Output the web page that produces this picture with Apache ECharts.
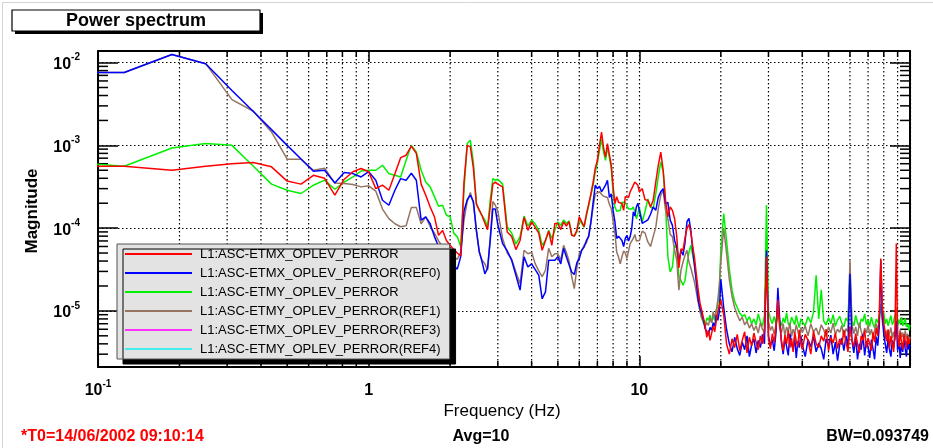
<!DOCTYPE html>
<html>
<head>
<meta charset="utf-8">
<title>Power spectrum</title>
<script src="https://cdn.jsdelivr.net/npm/echarts@6/dist/echarts.min.js"></script>
<style>
html, body { margin: 0; padding: 0; background: #fff; }
#chart { width: 933px; height: 448px; }
</style>
</head>
<body>
<div id="chart"></div>
<script>
// frequency bins (Hz), shared by all traces
var freq = [
  0.0625, 0.125, 0.1875, 0.25, 0.3125, 0.375, 0.4375, 0.5, 0.5625, 0.625, 0.6875, 0.75, 0.8125, 0.875, 0.9375, 1,
  1.0625, 1.125, 1.1875, 1.25, 1.3125, 1.375, 1.4375, 1.5, 1.5625, 1.625, 1.6875, 1.75, 1.8125, 1.875, 1.9375, 2,
  2.0625, 2.125, 2.1875, 2.25, 2.3125, 2.375, 2.4375, 2.5, 2.5625, 2.625, 2.6875, 2.75, 2.8125, 2.875, 2.9375, 3,
  3.125, 3.25, 3.375, 3.5, 3.625, 3.75, 3.875, 4, 4.125, 4.25, 4.375, 4.5, 4.625, 4.75, 4.875, 5, 5.125, 5.25, 5.375, 5.5,
  5.625, 5.75, 5.875, 6, 6.125, 6.25, 6.375, 6.5, 6.625, 6.75, 6.875, 7, 7.125, 7.25, 7.375, 7.5, 7.625, 7.75, 7.875, 8,
  8.125, 8.25, 8.375, 8.5, 8.625, 8.75, 8.875, 9, 9.125, 9.25, 9.375, 9.5, 9.625, 9.75, 9.875, 10,
  10.25, 10.5, 10.75, 11, 11.25, 11.5, 11.75, 12, 12.25, 12.5, 12.75, 13, 13.25, 13.5, 13.75, 14,
  14.25, 14.5, 14.75, 15, 15.25, 15.5, 15.75, 16, 16.25, 16.5, 16.75, 17, 17.25, 17.5, 17.75, 18, 18.25, 18.5, 18.75, 19, 19.25, 19.5, 19.75, 20,
  20.5, 21, 21.5, 22, 22.5, 23, 23.5, 24, 24.5, 25,
  25.5, 26, 26.5, 27, 27.5, 28, 28.5, 29, 29.5, 30,
  30.5, 31, 31.5, 32, 32.5, 33, 33.5, 34, 34.5, 35,
  35.5, 36, 36.5, 37, 37.5, 38, 38.5, 39, 39.5, 40,
  41, 42, 43, 44, 45, 46, 47, 48, 49, 50,
  51, 52, 53, 54, 55, 56, 57, 58, 59, 60,
  61, 62, 63, 64, 65, 66, 67, 68, 69, 70,
  71, 72, 73, 74, 75, 76, 77, 78, 79, 80,
  81, 82, 83, 84, 85, 86, 87, 88, 89, 90,
  91, 92, 93, 94, 95, 96, 97, 98, 99, 100
];

// L1:ASC-ETMX_OPLEV_PERROR (red)
var etmx = [
  5.6e-4, 5.6e-4, 5.0e-4, 5.6e-4, 6.0e-4, 6.2e-4, 5.5e-4, 3.7e-4, 3.4e-4, 4.35e-4, 4.0e-4, 2.5e-4, 3.9e-4, 4.8e-4, 5.25e-4, 4.8e-4,
  3.0e-4, 3.3e-4, 2.87e-4, 4.55e-4, 7.1e-4, 7.6e-4, 9.8e-4, 8.0e-4, 3.4e-4, 2.5e-4, 1.8e-4, 1.37e-4, 8.2e-5, 9.4e-5, 7.1e-5, 6.2e-5,
  5.5e-5, 5.0e-5, 4.6e-5, 3.6e-4, 1.0e-3, 9.6e-4, 5.3e-4, 1.95e-4, 1.65e-4, 1.4e-4, 1.15e-4, 9.6e-5, 1.8e-4, 3.4e-4, 3.6e-4, 3.4e-4,
  3.15e-4, 9.0e-5, 7.9e-5, 5.5e-5, 7.1e-5, 1.35e-4, 9.4e-5, 1.19e-4, 1.02e-4, 8.7e-5, 5.4e-5, 7.1e-5, 9.2e-5, 6.2e-5, 1.14e-4, 1.14e-4, 9.6e-5, 1.19e-4, 1.06e-4, 1.2e-4,
  8.2e-5, 8.0e-5, 9.4e-5, 1.37e-4, 1.19e-4, 1.04e-4, 1.47e-4, 1.94e-4, 2.6e-4, 3.6e-4, 5.3e-4, 6.6e-4, 1.0e-3, 1.45e-3, 9.4e-4, 7.2e-4, 1.05e-3, 1.05e-3, 5.75e-4, 3.15e-4,
  1.98e-4, 2.4e-4, 2.05e-4, 2.05e-4, 1.98e-4, 1.64e-4, 2.4e-4, 2.5e-4, 2.35e-4, 2.75e-4, 3.0e-4, 3.3e-4, 3.6e-4, 3.79e-4, 3.3e-4, 2.75e-4,
  3.0e-4, 2.2e-4, 2.17e-4, 1.8e-4, 2.17e-4, 3.6e-4, 5.75e-4, 8.3e-4, 5.0e-4, 2.17e-4, 1.37e-4, 1.8e-4, 1.64e-4, 1.3e-4, 7.9e-5, 3.3e-5,
  5.6e-5, 5.4e-5, 7.6e-5, 1.0e-4, 1.1e-4, 8.9e-5, 6.0e-5, 4.3e-5, 2.7e-5, 1.78e-5, 1.25e-5, 1.02e-5, 8.2e-6, 6.7e-6, 4.8e-6, 5.85e-6, 4.4e-6, 5.4e-6, 6.5e-6, 5.6e-6, 7.7e-6, 9.8e-6, 1.17e-5, 1.35e-5,
  9.0e-6, 4.0e-6, 3.0e-6, 4.6e-6, 3.6e-6, 5.2e-6, 3.3e-6, 4.4e-6, 5.6e-6, 3.1e-6,
  4.8e-6, 3.8e-6, 5.4e-6, 4.2e-6, 3.4e-6, 5.0e-6, 4.0e-6, 6.0e-6, 4.5e-5, 4.6e-6,
  3.5e-6, 5.3e-6, 4.1e-6, 6.5e-6, 1.35e-5, 7.0e-6, 4.4e-6, 3.3e-6, 5.1e-6, 4.0e-6,
  5.8e-6, 3.6e-6, 4.7e-6, 3.2e-6, 5.5e-6, 4.3e-6, 3.7e-6, 5.9e-6, 4.1e-6, 3.4e-6,
  5.2e-6, 4.4e-6, 3.0e-6, 5.7e-6, 4.0e-6, 3.6e-6, 5.0e-6, 4.3e-6, 6.0e-6, 3.3e-6,
  4.8e-6, 4.1e-6, 5.4e-6, 3.5e-6, 4.6e-6, 3.9e-6, 5.9e-6, 4.2e-6, 3.2e-6, 6.5e-6,
  4.5e-6, 3.7e-6, 5.3e-6, 4.0e-6, 3.1e-6, 5.0e-6, 4.4e-6, 5.8e-6, 3.6e-6, 4.7e-6,
  4.0e-6, 3.3e-6, 5.5e-6, 4.2e-6, 6.2e-6, 5.0e-6, 9.0e-6, 4.3e-5, 1.2e-5, 7.0e-6,
  5.5e-6, 4.3e-6, 6.0e-6, 3.5e-6, 5.0e-6, 4.1e-6, 3.2e-6, 5.6e-6, 6.5e-5, 4.8e-6,
  3.7e-6, 5.5e-6, 4.2e-6, 3.4e-6, 5.2e-6, 4.4e-6, 3.6e-6, 5.0e-6, 4.0e-6, 4.6e-6
];

// L1:ASC-ETMX_OPLEV_PERROR(REF0) (blue)
var etmxRef0 = [
  7.6e-3, 7.6e-3, 1.25e-2, 9.7e-3, 4.6e-3, 2.56e-3, 1.55e-3, 1.0e-3, 6.85e-4, 4.87e-4, 5.0e-4, 3.5e-4, 4.7e-4, 4.56e-4, 4.15e-4, 4.8e-4,
  3.79e-4, 2.17e-4, 1.89e-4, 2.87e-4, 3.96e-4, 3.79e-4, 4.6e-4, 3.79e-4, 1.25e-4, 1.37e-4, 1.13e-4, 7.9e-5, 6.0e-5, 5.0e-5, 4.5e-5, 4.0e-5,
  3.5e-5, 3.2e-5, 4.5e-5, 1.6e-4, 2.2e-4, 2.5e-4, 2.1e-4, 9.4e-5, 5.2e-5, 3.9e-5, 2.8e-5, 3.3e-5, 7.1e-5, 1.7e-4, 1.7e-4, 1.1e-4,
  6.5e-5, 5.3e-5, 4.1e-5, 2.7e-5, 1.78e-5, 4.5e-5, 3.4e-5, 3.7e-5, 3.15e-5, 2.7e-5, 1.4e-5, 1.7e-5, 4.1e-5, 4.1e-5, 4.1e-5, 4.5e-5, 3.7e-5, 5.7e-5, 4.5e-5, 3.6e-5,
  2.95e-5, 2.75e-5, 3.8e-5, 4.3e-5, 5.4e-5, 5.9e-5, 7.1e-5, 7.9e-5, 1.19e-4, 2.05e-4, 3.3e-4, 3.0e-4, 3.2e-4, 2.75e-4, 3.0e-4, 3.3e-4, 3.79e-4, 2.35e-4, 2.6e-4, 1.64e-4,
  1.19e-4, 7.5e-5, 8.0e-5, 7.9e-5, 7.1e-5, 6.0e-5, 7.5e-5, 8.2e-5, 7.0e-5, 7.9e-5, 9.9e-5, 1.57e-4, 1.4e-4, 1.8e-4, 2.0e-4, 1.64e-4,
  1.14e-4, 1.2e-4, 1.26e-4, 1.47e-4, 1.8e-4, 1.64e-4, 2.35e-4, 2.75e-4, 3.0e-4, 1.98e-4, 2.05e-4, 1.25e-4, 1.08e-4, 7.1e-5, 5.9e-5, 3.9e-5,
  5.4e-5, 4.7e-5, 6.7e-5, 1.2e-4, 1.31e-4, 9.4e-5, 5.4e-5, 3.45e-5, 2.2e-5, 1.35e-5, 1.08e-5, 9.4e-6, 7.7e-6, 6.1e-6, 5.85e-6, 5.1e-6, 6.3e-6, 5.85e-6, 7.2e-6, 6.5e-6, 8.9e-6, 7.7e-6, 9.8e-6, 2.4e-5,
  1.1e-5, 6.0e-6, 4.0e-6, 3.2e-6, 4.8e-6, 3.5e-6, 2.9e-6, 4.2e-6, 3.4e-6, 5.0e-6,
  2.8e-6, 3.9e-6, 4.6e-6, 3.1e-6, 4.4e-6, 3.6e-6, 5.2e-6, 4.0e-6, 5.4e-5, 5.0e-6,
  3.8e-6, 4.5e-6, 3.3e-6, 5.6e-6, 1.9e-5, 8.0e-6, 4.1e-6, 3.0e-6, 4.7e-6, 3.7e-6,
  2.9e-6, 5.3e-6, 4.0e-6, 3.4e-6, 4.8e-6, 2.7e-6, 4.3e-6, 3.6e-6, 5.0e-6, 3.9e-6,
  2.8e-6, 4.5e-6, 3.7e-6, 4.9e-6, 3.2e-6, 4.1e-6, 3.5e-6, 2.6e-6, 4.6e-6, 3.8e-6,
  5.1e-6, 3.0e-6, 4.2e-6, 2.5e-6, 3.9e-6, 4.7e-6, 3.3e-6, 5.0e-6, 3.6e-6, 2.8e-5,
  4.4e-6, 3.1e-6, 4.8e-6, 2.6e-6, 4.0e-6, 3.4e-6, 5.2e-6, 2.9e-6, 4.3e-6, 3.7e-6,
  2.7e-6, 4.5e-6, 3.5e-6, 2.6e-6, 4.9e-6, 3.8e-6, 6.5e-6, 4.1e-5, 9.0e-6, 5.2e-6,
  4.0e-6, 3.1e-6, 4.6e-6, 3.4e-6, 2.8e-6, 4.4e-6, 3.6e-6, 5.0e-6, 7.5e-6, 3.3e-6,
  4.5e-6, 2.7e-6, 4.0e-6, 3.2e-6, 4.7e-6, 3.5e-6, 2.8e-6, 4.2e-6, 3.4e-6, 3.9e-6
];

// L1:ASC-ETMY_OPLEV_PERROR (green)
var etmy = [
  6.6e-4, 5.6e-4, 9.3e-4, 1.05e-3, 1.0e-3, 5.6e-4, 3.4e-4, 2.87e-4, 2.62e-4, 3.3e-4, 3.8e-4, 2.95e-4, 3.6e-4, 4.15e-4, 4.9e-4, 5.0e-4,
  5.0e-4, 5.75e-4, 4.55e-4, 4.35e-4, 4.15e-4, 6.6e-4, 1.0e-3, 8.3e-4, 5.0e-4, 3.6e-4, 3.15e-4, 2.4e-4, 1.84e-4, 1.89e-4, 1.43e-4, 1.37e-4,
  8.7e-5, 7.9e-5, 6.0e-5, 2.9e-4, 1.05e-3, 1.15e-3, 6.2e-4, 2.0e-4, 1.64e-4, 1.43e-4, 1.25e-4, 1.04e-4, 2.17e-4, 3.96e-4, 3.79e-4, 3.9e-4,
  3.4e-4, 1.04e-4, 8.7e-5, 6.4e-5, 7.9e-5, 1.4e-4, 1.06e-4, 1.25e-4, 1.12e-4, 9.4e-5, 6.2e-5, 7.1e-5, 9.4e-5, 7.5e-5, 9.4e-5, 1.19e-4, 1.08e-4, 1.25e-4, 1.14e-4, 1.22e-4,
  8.4e-5, 8.0e-5, 9.0e-5, 1.25e-4, 1.14e-4, 1.02e-4, 1.43e-4, 1.89e-4, 2.5e-4, 3.3e-4, 4.8e-4, 6.06e-4, 8.7e-4, 1.2e-3, 8.3e-4, 6.6e-4, 9.6e-4, 9.1e-4, 5.3e-4, 2.66e-4,
  1.8e-4, 1.6e-4, 1.52e-4, 1.64e-4, 2.05e-4, 2.1e-4, 2.04e-4, 1.94e-4, 1.7e-4, 1.64e-4, 1.7e-4, 1.8e-4, 1.57e-4, 1.3e-4, 1.5e-4, 1.77e-4,
  1.19e-4, 1.6e-4, 2.25e-4, 1.8e-4, 1.72e-4, 2.6e-4, 4.15e-4, 6.3e-4, 4.8e-4, 1.89e-4, 4.5e-5, 2.95e-5, 3.4e-5, 6.2e-5, 5.7e-5, 2.6e-5,
  2.35e-5, 2.04e-5, 2.35e-5, 3.56e-5, 5.1e-5, 6.2e-5, 4.7e-5, 3.56e-5, 2.35e-5, 1.55e-5, 1.02e-5, 8.2e-6, 7.2e-6, 6.7e-6, 8.2e-6, 7.7e-6, 8.9e-6, 7.2e-6, 8.6e-6, 7.7e-6, 1.02e-5, 1.17e-5, 1.78e-5, 5.4e-5,
  1.5e-4, 7.1e-5, 3.2e-5, 1.78e-5, 1.3e-5, 1.1e-5, 9.4e-6, 8.6e-6, 9.0e-6, 7.6e-6,
  8.5e-6, 7.0e-6, 8.0e-6, 6.8e-6, 9.2e-6, 7.4e-6, 6.6e-6, 8.8e-6, 1.9e-4, 1.0e-5,
  8.0e-6, 7.0e-6, 8.6e-6, 6.8e-6, 9.0e-6, 7.5e-6, 6.6e-6, 8.2e-6, 7.2e-6, 9.5e-6,
  7.0e-6, 6.5e-6, 8.4e-6, 7.6e-6, 6.8e-6, 8.8e-6, 7.3e-6, 6.3e-6, 8.0e-6, 7.4e-6,
  6.6e-6, 8.5e-6, 7.2e-6, 9.6e-6, 2.7e-5, 8.0e-6, 1.8e-5, 7.5e-6, 6.8e-6, 8.3e-6,
  7.0e-6, 9.0e-6, 6.5e-6, 7.8e-6, 8.6e-6, 7.1e-6, 6.4e-6, 8.2e-6, 7.4e-6, 3.2e-5,
  7.6e-6, 6.6e-6, 8.8e-6, 7.2e-6, 6.3e-6, 8.0e-6, 7.5e-6, 9.2e-6, 6.8e-6, 7.8e-6,
  6.5e-6, 8.4e-6, 7.0e-6, 6.2e-6, 8.0e-6, 7.2e-6, 9.0e-6, 1.1e-5, 8.5e-6, 9.5e-6,
  7.0e-6, 8.0e-6, 6.6e-6, 7.6e-6, 8.8e-6, 6.8e-6, 7.4e-6, 9.0e-6, 8.0e-6, 6.5e-6,
  7.8e-6, 7.0e-6, 8.4e-6, 6.6e-6, 7.3e-6, 8.1e-6, 6.4e-6, 7.0e-6, 5.8e-6, 6.8e-6
];

// L1:ASC-ETMY_OPLEV_PERROR(REF1) (brown)
var etmyRef1 = [
  7.6e-3, 7.6e-3, 1.25e-2, 9.7e-3, 3.57e-3, 2.58e-3, 1.45e-3, 6.8e-4, 6.8e-4, 5.0e-4, 5.3e-4, 3.5e-4, 3.46e-4, 3.36e-4, 3.15e-4, 3.24e-4,
  2.8e-4, 1.7e-4, 1.3e-4, 1.13e-4, 1.04e-4, 1.07e-4, 1.77e-4, 1.77e-4, 1.13e-4, 1.37e-4, 1.04e-4, 8.7e-5, 7.0e-5, 6.0e-5, 5.5e-5, 5.0e-5,
  4.5e-5, 4.2e-5, 5.1e-5, 1.25e-4, 2.1e-4, 2.7e-4, 2.0e-4, 9.4e-5, 5.1e-5, 4.1e-5, 3.7e-5, 3.1e-5, 7.6e-5, 2.1e-4, 1.89e-4, 1.6e-4,
  7.5e-5, 5.0e-5, 4.2e-5, 2.95e-5, 2.13e-5, 5.4e-5, 4.9e-5, 5.1e-5, 3.7e-5, 3.05e-5, 2.6e-5, 3.1e-5, 5.7e-5, 4.5e-5, 4.9e-5, 4.9e-5, 4.1e-5, 6.2e-5, 5.1e-5, 4.0e-5,
  2.6e-5, 1.86e-5, 3.25e-5, 4.9e-5, 5.4e-5, 6.2e-5, 6.6e-5, 8.2e-5, 1.19e-4, 1.8e-4, 2.6e-4, 2.66e-4, 2.75e-4, 2.57e-4, 2.43e-4, 2.48e-4, 2.35e-4, 1.94e-4, 1.72e-4, 1.64e-4,
  8.7e-5, 5.1e-5, 4.5e-5, 3.7e-5, 4.5e-5, 5.3e-5, 5.0e-5, 4.3e-5, 4.3e-5, 6.5e-5, 6.7e-5, 7.5e-5, 8.4e-5, 7.0e-5, 7.0e-5, 7.1e-5,
  9.2e-5, 8.7e-5, 6.8e-5, 6.0e-5, 7.9e-5, 1.02e-4, 1.72e-4, 2.5e-4, 2.87e-4, 1.64e-4, 1.3e-4, 8.4e-5, 7.9e-5, 5.4e-5, 4.1e-5, 1.78e-5,
  3.1e-5, 3.9e-5, 4.7e-5, 5.4e-5, 3.9e-5, 3.3e-5, 2.7e-5, 2.2e-5, 1.68e-5, 1.27e-5, 9.8e-6, 8.2e-6, 7.7e-6, 6.5e-6, 7.2e-6, 6.7e-6, 8.2e-6, 7.2e-6, 9.8e-6, 8.2e-6, 1.02e-5, 1.35e-5, 2.04e-5, 3.9e-5,
  1.0e-4, 5.0e-5, 2.4e-5, 1.5e-5, 1.1e-5, 9.0e-6, 7.6e-6, 8.4e-6, 6.8e-6, 7.5e-6,
  6.2e-6, 7.0e-6, 5.8e-6, 6.6e-6, 5.4e-6, 7.2e-6, 6.0e-6, 5.5e-6, 5.0e-5, 7.5e-6,
  5.8e-6, 6.5e-6, 5.2e-6, 6.8e-6, 1.1e-5, 6.2e-6, 5.5e-6, 7.0e-6, 5.0e-6, 6.4e-6,
  5.6e-6, 7.2e-6, 4.9e-6, 6.0e-6, 5.3e-6, 6.8e-6, 5.7e-6, 4.8e-6, 6.3e-6, 5.5e-6,
  6.6e-6, 5.0e-6, 7.0e-6, 5.6e-6, 6.2e-6, 5.1e-6, 6.8e-6, 5.9e-6, 4.9e-6, 6.4e-6,
  5.4e-6, 7.1e-6, 5.2e-6, 6.0e-6, 5.5e-6, 6.7e-6, 4.8e-6, 6.1e-6, 5.6e-6, 4.1e-5,
  6.9e-6, 5.3e-6, 6.4e-6, 5.0e-6, 7.2e-6, 5.7e-6, 4.8e-6, 6.2e-6, 5.4e-6, 6.8e-6,
  5.1e-6, 6.0e-6, 4.9e-6, 5.8e-6, 7.0e-6, 5.5e-6, 8.0e-6, 1.2e-5, 7.5e-6, 6.0e-6,
  4.6e-6, 5.8e-6, 4.2e-6, 5.4e-6, 6.3e-6, 4.7e-6, 5.6e-6, 4.4e-6, 1.1e-5, 5.2e-6,
  4.5e-6, 6.0e-6, 4.8e-6, 5.5e-6, 4.3e-6, 5.8e-6, 4.6e-6, 5.3e-6, 4.1e-6, 4.9e-6
];

// REF3 / REF4 are listed in the legend but have no visible trace
var etmxRef3 = [];
var etmyRef4 = [];

var names = [
  'L1:ASC-ETMX_OPLEV_PERROR',
  'L1:ASC-ETMX_OPLEV_PERROR(REF0)',
  'L1:ASC-ETMY_OPLEV_PERROR',
  'L1:ASC-ETMY_OPLEV_PERROR(REF1)',
  'L1:ASC-ETMX_OPLEV_PERROR(REF3)',
  'L1:ASC-ETMY_OPLEV_PERROR(REF4)'
];

// minor log ticks (decades come from the axes themselves)
var xMinor = [0.2, 0.3, 0.4, 0.5, 0.6, 0.7, 0.8, 0.9, 2, 3, 4, 5, 6, 7, 8, 9, 20, 30, 40, 50, 60, 70, 80, 90];
var yMinor = [3e-6, 4e-6, 5e-6, 6e-6, 7e-6, 8e-6, 9e-6,
  2e-5, 3e-5, 4e-5, 5e-5, 6e-5, 7e-5, 8e-5, 9e-5,
  2e-4, 3e-4, 4e-4, 5e-4, 6e-4, 7e-4, 8e-4, 9e-4,
  2e-3, 3e-3, 4e-3, 5e-3, 6e-3, 7e-3, 8e-3, 9e-3];

var FONT = "'Liberation Sans', Arial, Helvetica, sans-serif";

function pairs(vals) {
  var out = [];
  for (var i = 0; i < vals.length; i++) out.push([freq[i], vals[i]]);
  return out;
}

var supRich = {
  b: { fontSize: 16, fontWeight: 'bold', fontFamily: FONT, color: '#000', lineHeight: 20, verticalAlign: 'bottom' },
  s: { fontSize: 10, fontWeight: 'bold', fontFamily: FONT, color: '#000', lineHeight: 12, verticalAlign: 'top' }
};

function powLabel(v, maxExp) {
  var l = Math.log(v) / Math.LN10;
  var e = Math.round(l);
  if (Math.abs(l - e) > 1e-6 || e > maxExp) return '';
  if (e === 0) return '{b|1}';
  if (e === 1) return '{b|10}';
  return '{b|10}{s|' + e + '}';
}

var dotted = { color: '#000', width: 1.2, type: [1.5, 2.5] };
var frame = { color: '#000', width: 2 };

function lineSeries(name, vals, color) {
  return {
    name: name, type: 'line', data: pairs(vals),
    xAxisIndex: 0, yAxisIndex: 0,
    symbol: 'none', showSymbol: false, clip: true, z: 3,
    lineStyle: { color: color, width: 1.5 },
    itemStyle: { color: color },
    emphasis: { disabled: true }
  };
}

var chart = echarts.init(document.getElementById('chart'), null, { renderer: 'canvas' });

var option = {
  animation: false,
  backgroundColor: '#fff',
  grid: { left: 98, top: 51, width: 812, height: 316, outerBoundsMode: 'none' },
  legend: {
    data: names,
    orient: 'vertical', left: 117, top: 244,
    icon: 'rect', itemWidth: 67, itemHeight: 2, itemGap: 5,
    padding: [3, 9, 3, 8],
    backgroundColor: '#e3e3e3', borderColor: '#555', borderWidth: 1,
    shadowColor: '#000', shadowBlur: 0, shadowOffsetX: 6, shadowOffsetY: 5,
    selectedMode: false,
    textStyle: { fontSize: 13, lineHeight: 14, color: '#000', fontFamily: FONT, padding: [0, 0, 0, 3] }
  },
  xAxis: [{
    type: 'log', logBase: 10, min: 0.1, max: 100, position: 'bottom',
    axisLine: { show: true, onZero: false, lineStyle: frame },
    axisTick: { show: true, inside: true, length: 11, lineStyle: { color: '#000', width: 1.5 } },
    axisLabel: { margin: 12, formatter: function (v) { return powLabel(v, 1); }, rich: supRich },
    splitLine: { show: true, lineStyle: dotted }
  }, {
    type: 'log', logBase: 10, min: 0.1, max: 100, position: 'top',
    axisLine: { show: true, onZero: false, lineStyle: frame },
    axisTick: { show: true, inside: true, length: 11, lineStyle: { color: '#000', width: 1.5 } },
    axisLabel: { show: false },
    splitLine: { show: false }
  }],
  yAxis: [{
    type: 'log', logBase: 10, min: 2.1e-6, max: 1.38e-2, position: 'left',
    axisLine: { show: true, onZero: false, lineStyle: frame },
    axisTick: { show: true, inside: true, length: 20, lineStyle: { color: '#000', width: 1.5 } },
    axisLabel: { margin: 18, formatter: function (v) { return powLabel(v, 0); }, rich: supRich },
    splitLine: { show: true, lineStyle: dotted }
  }, {
    type: 'log', logBase: 10, min: 2.1e-6, max: 1.38e-2, position: 'right',
    axisLine: { show: true, onZero: false, lineStyle: frame },
    axisTick: { show: true, inside: true, length: 20, lineStyle: { color: '#000', width: 1.5 } },
    axisLabel: { show: false },
    splitLine: { show: false }
  }],
  graphic: [
    { type: 'line', shape: { x1: 2.5, y1: 2, x2: 2.5, y2: 448 }, style: { stroke: '#d4d4d4', lineWidth: 1 } },
    { type: 'line', shape: { x1: 2, y1: 2.5, x2: 933, y2: 2.5 }, style: { stroke: '#d4d4d4', lineWidth: 1 } },
    { type: 'rect', shape: { x: 15, y: 13, width: 248, height: 21 }, style: { fill: '#000' } },
    { type: 'rect', shape: { x: 12, y: 10, width: 248, height: 21 }, style: { fill: '#fff', stroke: '#000', lineWidth: 1.2 } },
    { type: 'text', x: 136, y: 21, style: { text: 'Power spectrum', font: 'bold 18px ' + FONT, fill: '#000',
      align: 'center', verticalAlign: 'middle', textAlign: 'center', textVerticalAlign: 'middle' } },
    { type: 'text', x: 32, y: 211, rotation: Math.PI / 2, style: { text: 'Magnitude', font: 'bold 17px ' + FONT, fill: '#000',
      align: 'center', verticalAlign: 'middle', textAlign: 'center', textVerticalAlign: 'middle' } },
    { type: 'text', x: 502, y: 411, style: { text: 'Frequency (Hz)', font: '17px ' + FONT, fill: '#000',
      align: 'center', verticalAlign: 'middle', textAlign: 'center', textVerticalAlign: 'middle' } },
    { type: 'text', x: 21, y: 437, style: { text: '*T0=14/06/2002 09:10:14', font: 'bold 16px ' + FONT, fill: '#ff0000',
      align: 'left', verticalAlign: 'middle', textAlign: 'left', textVerticalAlign: 'middle' } },
    { type: 'text', x: 481, y: 437, style: { text: 'Avg=10', font: 'bold 16px ' + FONT, fill: '#000',
      align: 'center', verticalAlign: 'middle', textAlign: 'center', textVerticalAlign: 'middle' } },
    { type: 'text', x: 929, y: 437, style: { text: 'BW=0.093749', font: 'bold 16px ' + FONT, fill: '#000',
      align: 'right', verticalAlign: 'middle', textAlign: 'right', textVerticalAlign: 'middle' } }
  ],
  series: [
    {
      // dotted vertical grid + small ticks at 2..9 of each decade
      type: 'custom', xAxisIndex: 0, yAxisIndex: 0, z: 1, silent: true,
      data: xMinor.map(function (f) { return [f, 1e-4]; }),
      renderItem: function (params, api) {
        var x = api.coord([api.value(0), api.value(1)])[0];
        var cs = params.coordSys;
        var top = cs.y, bottom = cs.y + cs.height;
        return { type: 'group', children: [
          { type: 'line', shape: { x1: x, y1: top, x2: x, y2: bottom }, style: { stroke: '#000', lineWidth: 1.2, lineDash: [1.5, 2.5] } },
          { type: 'line', shape: { x1: x, y1: bottom, x2: x, y2: bottom - 6 }, style: { stroke: '#000', lineWidth: 1.5 } },
          { type: 'line', shape: { x1: x, y1: top, x2: x, y2: top + 6 }, style: { stroke: '#000', lineWidth: 1.5 } }
        ] };
      }
    },
    {
      // minor ticks on left and right frame
      type: 'custom', xAxisIndex: 0, yAxisIndex: 0, z: 1, silent: true,
      data: yMinor.map(function (v) { return [1, v]; }),
      renderItem: function (params, api) {
        var y = api.coord([api.value(0), api.value(1)])[1];
        var cs = params.coordSys;
        var l = cs.x, r = cs.x + cs.width;
        return { type: 'group', children: [
          { type: 'line', shape: { x1: l, y1: y, x2: l + 10, y2: y }, style: { stroke: '#000', lineWidth: 1.5 } },
          { type: 'line', shape: { x1: r, y1: y, x2: r - 10, y2: y }, style: { stroke: '#000', lineWidth: 1.5 } }
        ] };
      }
    },
    lineSeries(names[2], etmy, '#00f000'),
    lineSeries(names[3], etmyRef1, '#957462'),
    lineSeries(names[1], etmxRef0, '#0000ff'),
    lineSeries(names[0], etmx, '#ff0000'),
    lineSeries(names[4], etmxRef3, '#ff33ff'),
    lineSeries(names[5], etmyRef4, '#44eeee')
  ]
};

chart.setOption(option);
</script>
</body>
</html>
